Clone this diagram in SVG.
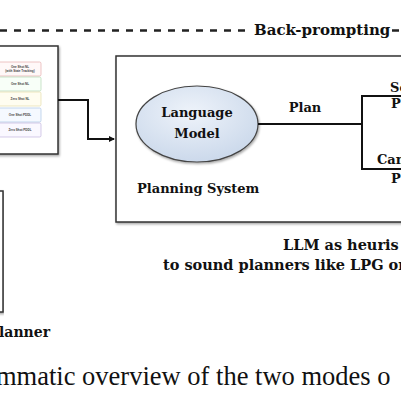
<svg xmlns="http://www.w3.org/2000/svg" width="401" height="402" viewBox="0 0 401 402">
<defs>
<style>
.b{font-family:"DejaVu Serif","Liberation Serif",serif;font-weight:bold;fill:#111}
.box{fill:#fff;stroke:#333;stroke-width:1.5}
.pr{stroke-width:0.6;rx:1.5}
.pt{font-family:"Liberation Sans",Arial,sans-serif;font-size:3px;font-weight:bold;fill:#444;text-anchor:middle}
.ln{fill:none;stroke:#111;stroke-width:2}
</style>
<filter id="sh" x="-10%" y="-10%" width="120%" height="130%"><feDropShadow dx="1" dy="1.5" stdDeviation="1" flood-color="#000" flood-opacity="0.35"/></filter>
<radialGradient id="eg" cx="45%" cy="35%" r="70%"><stop offset="0" stop-color="#eef3fa"/><stop offset="1" stop-color="#c9d7ea"/></radialGradient>
<marker id="ar" markerWidth="6" markerHeight="6" refX="5" refY="3" orient="auto" markerUnits="userSpaceOnUse"><path d="M0,0 L6,3 L0,6 z" fill="#111"/></marker>
</defs>
<rect width="401" height="402" fill="#fff"/>
<g id="backprompt">
<line x1="0" y1="30.5" x2="246" y2="30.5" stroke="#222" stroke-width="2.5" stroke-dasharray="7 7"/>
<text class="b" x="254" y="35" font-size="15">Back-prompting</text>
<line x1="392" y1="30.5" x2="399" y2="30.5" stroke="#222" stroke-width="2.5"/>
</g>
<g id="prompts">
<rect class="box" x="-3" y="46" width="61" height="108" filter="url(#sh)"/>
<rect class="pr" x="-2" y="62" width="43" height="14" fill="#fff8f8" stroke="#e0a0a0"/>
<text class="pt" x="20" y="68">One Shot NL</text><text class="pt" x="20" y="72">(with State Tracking)</text>
<rect class="pr" x="-2" y="77" width="43" height="14" fill="#f8fff8" stroke="#a8d0a8"/>
<text class="pt" x="20" y="85">One Shot NL</text>
<rect class="pr" x="-2" y="92" width="43" height="14" fill="#fffdf0" stroke="#e0d8a0"/>
<text class="pt" x="20" y="100">Zero Shot NL</text>
<rect class="pr" x="-2" y="108" width="43" height="14" fill="#f5f9ff" stroke="#a0bce0"/>
<text class="pt" x="20" y="116">One Shot PDDL</text>
<rect class="pr" x="-2" y="123" width="43" height="14" fill="#faf8ff" stroke="#b8a8d8"/>
<text class="pt" x="20" y="131">Zero Shot PDDL</text>
</g>
<g id="planner">
<rect class="box" x="-5" y="191" width="8" height="121" filter="url(#sh)"/>
<text class="b" x="-1" y="337" font-size="14">lanner</text>
</g>
<g id="system">
<rect class="box" x="116" y="56" width="295" height="166" filter="url(#sh)"/>
<text class="b" x="137" y="193" font-size="13">Planning System</text>
</g>
<g id="lm">
<ellipse cx="197" cy="124" rx="61" ry="38" fill="url(#eg)" stroke="#444" stroke-width="1.2" filter="url(#sh)"/>
<text class="b" x="197" y="117" font-size="13" text-anchor="middle">Language</text>
<text class="b" x="197" y="138" font-size="13" text-anchor="middle">Model</text>
</g>
<g id="verifier">
<text class="b" x="390" y="92" font-size="13">Se</text>
<text class="b" x="391" y="108" font-size="13">P</text>
<text class="b" x="377" y="164" font-size="13">Can</text>
<text class="b" x="391" y="183" font-size="13">P</text>
</g>
<g id="connectors">
<polyline class="ln" points="58,100 88,100 88,139 114,139" marker-end="url(#ar)"/>
<line class="ln" x1="258" y1="124" x2="362" y2="124"/>
<polyline class="ln" points="401,96 362,96 362,169 401,169"/>
<text class="b" x="305" y="112" font-size="13" text-anchor="middle">Plan</text>
</g>
<g id="note">
<text class="b" x="283" y="250" font-size="14.5">LLM as heuris</text>
<text class="b" x="163" y="270" font-size="14.5">to sound planners like LPG or</text>
</g>
<text x="-4" y="385" font-family="Liberation Serif,serif" font-size="26.5" fill="#111">mmatic overview of the two modes o</text>
</svg>
